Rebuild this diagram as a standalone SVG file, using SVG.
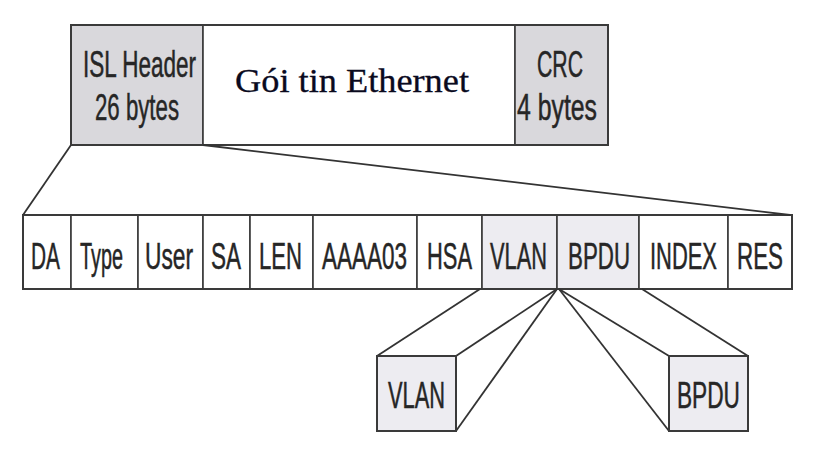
<svg xmlns="http://www.w3.org/2000/svg" width="816" height="450" viewBox="0 0 816 450">
<style>
.box{stroke:#3a3a3a;stroke-width:2}
.div{stroke:#3a3a3a;stroke-width:1.6}
.gray{fill:#d9d8dc}
.lav{fill:#edecf1}
.wht{fill:#ffffff}
.t{font-family:"Liberation Sans Narrow","Liberation Sans",Arial,sans-serif;font-size:36px;fill:#262626;stroke:#262626;stroke-width:0.5}
.serif{font-family:"Liberation Serif","Times New Roman",serif;font-size:33px;fill:#0a0a1e;stroke:#0a0a1e;stroke-width:0.3}
.ln{stroke:#333;stroke-width:1.8;fill:none}
</style>
<rect width="816" height="450" fill="#ffffff"/>
<g id="frame">
  <g id="isl-header">
    <rect class="gray div" x="71" y="25" width="132" height="120"/>
    <text class="t" x="83" y="77" textLength="113" lengthAdjust="spacingAndGlyphs">ISL Header</text>
    <text class="t" x="95" y="120" textLength="84" lengthAdjust="spacingAndGlyphs">26 bytes</text>
  </g>
  <g id="ethernet">
    <rect class="wht div" x="203" y="25" width="312" height="120"/>
    <text class="serif" x="235" y="92" textLength="234" lengthAdjust="spacingAndGlyphs">Gói tin Ethernet</text>
  </g>
  <g id="crc">
    <rect class="gray div" x="515" y="25" width="93" height="120"/>
    <text class="t" x="537" y="77" textLength="46" lengthAdjust="spacingAndGlyphs">CRC</text>
    <text class="t" x="517" y="120" textLength="80" lengthAdjust="spacingAndGlyphs">4 bytes</text>
  </g>
  <rect x="71" y="25" width="537" height="120" fill="none" class="box"/>
</g>
<g id="fields">
  <g id="f-da"><rect class="wht div" x="23" y="215" width="48" height="74"/><text class="t" x="31" y="269" textLength="29" lengthAdjust="spacingAndGlyphs">DA</text></g>
  <g id="f-type"><rect class="wht div" x="71" y="215" width="67" height="74"/><text class="t" x="80" y="269" textLength="43" lengthAdjust="spacingAndGlyphs">Type</text></g>
  <g id="f-user"><rect class="wht div" x="138" y="215" width="65" height="74"/><text class="t" x="145" y="269" textLength="48" lengthAdjust="spacingAndGlyphs">User</text></g>
  <g id="f-sa"><rect class="wht div" x="203" y="215" width="47" height="74"/><text class="t" x="211" y="269" textLength="30" lengthAdjust="spacingAndGlyphs">SA</text></g>
  <g id="f-len"><rect class="wht div" x="250" y="215" width="63" height="74"/><text class="t" x="259" y="269" textLength="43" lengthAdjust="spacingAndGlyphs">LEN</text></g>
  <g id="f-aaaa03"><rect class="wht div" x="313" y="215" width="104" height="74"/><text class="t" x="322" y="269" textLength="85" lengthAdjust="spacingAndGlyphs">AAAA03</text></g>
  <g id="f-hsa"><rect class="wht div" x="417" y="215" width="65" height="74"/><text class="t" x="427" y="269" textLength="45" lengthAdjust="spacingAndGlyphs">HSA</text></g>
  <g id="f-vlan"><rect class="lav div" x="482" y="215" width="75" height="74"/><text class="t" x="490" y="269" textLength="57" lengthAdjust="spacingAndGlyphs">VLAN</text></g>
  <g id="f-bpdu"><rect class="lav div" x="557" y="215" width="82" height="74"/><text class="t" x="568" y="269" textLength="62" lengthAdjust="spacingAndGlyphs">BPDU</text></g>
  <g id="f-index"><rect class="wht div" x="639" y="215" width="89" height="74"/><text class="t" x="650" y="269" textLength="67" lengthAdjust="spacingAndGlyphs">INDEX</text></g>
  <g id="f-res"><rect class="wht div" x="728" y="215" width="64" height="74"/><text class="t" x="737" y="269" textLength="46" lengthAdjust="spacingAndGlyphs">RES</text></g>
  <rect x="23" y="215" width="769" height="74" fill="none" class="box"/>
</g>
<g id="connectors">
  <line class="ln" x1="71" y1="145" x2="23" y2="215"/>
  <line class="ln" x1="203" y1="145" x2="790" y2="215" stroke-width="2.4"/>
  <line class="ln" x1="480" y1="289" x2="377" y2="356"/>
  <line class="ln" x1="557" y1="289" x2="456" y2="356"/>
  <line class="ln" x1="557" y1="289" x2="456" y2="431"/>
  <line class="ln" x1="559" y1="289" x2="669" y2="356"/>
  <line class="ln" x1="559" y1="289" x2="669" y2="431"/>
  <line class="ln" x1="642" y1="289" x2="748" y2="356"/>
</g>
<g id="vlan-box">
  <rect class="lav box" x="377" y="356" width="79" height="75"/>
  <text class="t" x="388" y="408" textLength="57" lengthAdjust="spacingAndGlyphs">VLAN</text>
</g>
<g id="bpdu-box">
  <rect class="lav box" x="669" y="356" width="79" height="75"/>
  <text class="t" x="677" y="408" textLength="63" lengthAdjust="spacingAndGlyphs">BPDU</text>
</g>
</svg>
